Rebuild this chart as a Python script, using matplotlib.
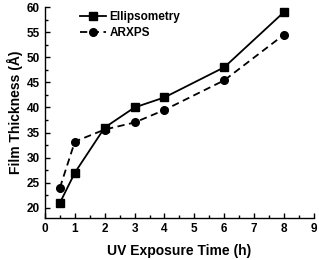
import matplotlib
matplotlib.use("Agg")
import matplotlib.pyplot as plt
from matplotlib.ticker import MultipleLocator

plt.rcParams['font.family'] = ['Liberation Sans', 'DejaVu Sans']
plt.rcParams['font.weight'] = 'bold'

time_h = [0.5, 1, 2, 3, 4, 6, 8]
ellipsometry = [21, 27, 36, 40, 42, 48, 59]
arxps = [24, 33.2, 35.6, 37, 39.5, 45.4, 54.5]

fig = plt.figure(figsize=(3.19, 2.6), dpi=100)
ax = fig.add_axes([0.141, 0.162, 0.843, 0.811])

ax.plot(time_h, ellipsometry, '-', color='black', marker='s', markersize=5.5, lw=1.3, label='Ellipsometry')
ax.plot(time_h, arxps, color='black', marker='o', markersize=5.5, lw=1.3, label='ARXPS',
        linestyle=(0, (4, 2.5)))

ax.set_xlim(0, 9)
ax.set_ylim(18, 60)
ax.xaxis.set_major_locator(MultipleLocator(1))
ax.xaxis.set_minor_locator(MultipleLocator(0.5))
ax.yaxis.set_major_locator(MultipleLocator(5))
ax.yaxis.set_minor_locator(MultipleLocator(2.5))
ax.tick_params(which='both', direction='in', labelsize=8.5, width=1)
ax.tick_params(which='major', length=3.5)
ax.tick_params(which='minor', length=2)
for lbl in ax.get_xticklabels() + ax.get_yticklabels():
    lbl.set_fontweight('bold')

ax.spines['top'].set_visible(False)
ax.spines['right'].set_visible(False)
ax.spines['left'].set_linewidth(1)
ax.spines['bottom'].set_linewidth(1)

ax.set_xlabel('UV Exposure Time (h)', fontsize=10, fontweight='bold', labelpad=7)
ax.set_ylabel('Film Thickness (Å)', fontsize=10, fontweight='bold', labelpad=3)

leg = ax.legend(loc='upper left', bbox_to_anchor=(0.09, 1.03), frameon=False,
                fontsize=8.5, handlelength=2.2, handletextpad=0.3, labelspacing=0.35)
for t in leg.get_texts():
    t.set_fontweight('bold')

fig.savefig('out.png', dpi=100)
